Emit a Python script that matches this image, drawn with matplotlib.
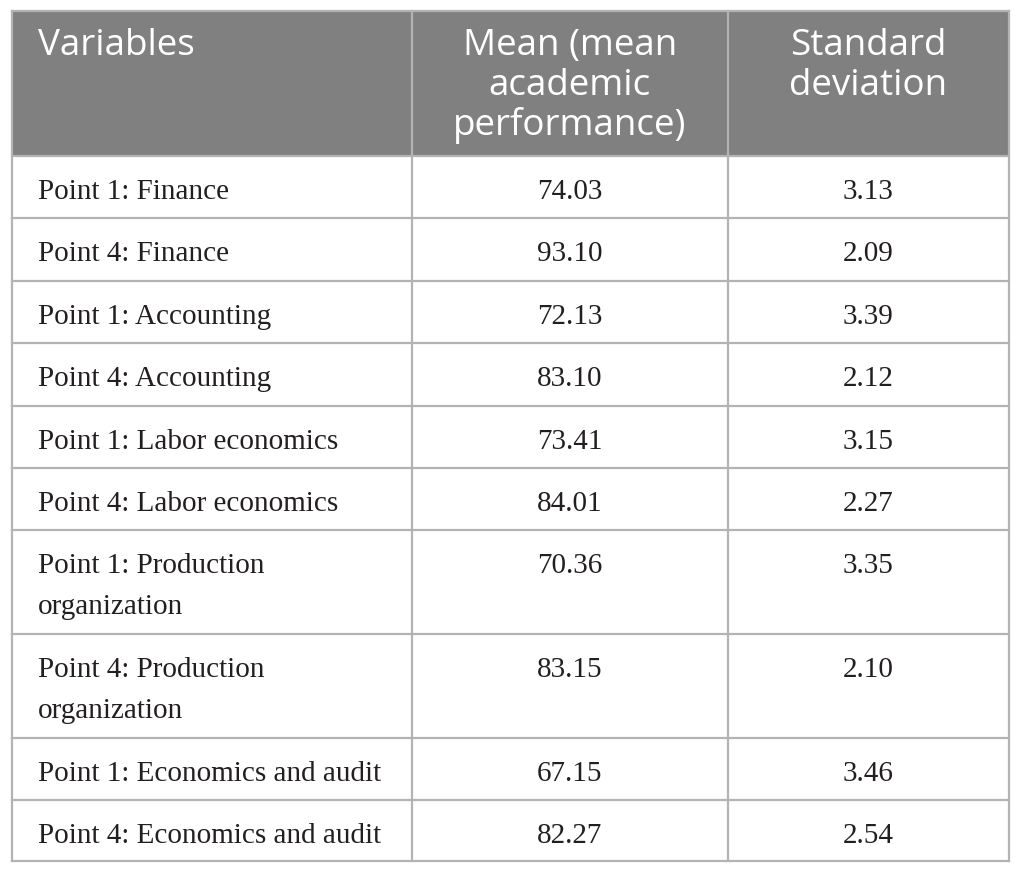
import matplotlib
matplotlib.use("Agg")
import matplotlib.pyplot as plt
from matplotlib.patches import Rectangle

# ---- data ----
headers = ["Variables", "Mean (mean\nacademic\nperformance)", "Standard\ndeviation"]
variables = [
    "Point 1: Finance",
    "Point 4: Finance",
    "Point 1: Accounting",
    "Point 4: Accounting",
    "Point 1: Labor economics",
    "Point 4: Labor economics",
    "Point 1: Production\norganization",
    "Point 4: Production\norganization",
    "Point 1: Economics and audit",
    "Point 4: Economics and audit",
]
means = ["74.03", "93.10", "72.13", "83.10", "73.41", "84.01", "70.36", "83.15", "67.15", "82.27"]
sds = ["3.13", "2.09", "3.39", "2.12", "3.15", "2.27", "3.35", "2.10", "3.46", "2.54"]

# ---- layout (pixels) ----
W, H = 1022, 875
col_x = [12, 412, 728, 1009]
row_y = [11, 156, 218, 281, 343, 406, 468, 530, 634, 738, 800, 861]
line_col = "#b3b3b3"
head_col = "#808080"

fig = plt.figure(figsize=(W / 100, H / 100), dpi=100)
ax = fig.add_axes([0, 0, 1, 1])
ax.set_xlim(0, W)
ax.set_ylim(H, 0)
ax.axis("off")

# header background
ax.add_patch(Rectangle((col_x[0], row_y[0]), col_x[-1] - col_x[0], row_y[1] - row_y[0],
                       facecolor=head_col, edgecolor="none", zorder=1))

# grid lines
for x in col_x:
    ax.plot([x, x], [row_y[0], row_y[-1]], color=line_col, lw=1.6, zorder=2, solid_capstyle="projecting")
for y in row_y:
    ax.plot([col_x[0], col_x[-1]], [y, y], color=line_col, lw=1.6, zorder=2, solid_capstyle="projecting")

hfont = dict(family=["Open Sans", "DejaVu Sans"], size=26.5, color="white")
bfont = dict(family=["Liberation Serif", "DejaVu Serif"], size=21, color="#231f20")

# headers
hbase = row_y[0] + 44
ax.text(38, hbase, headers[0], ha="left", va="baseline", **hfont, zorder=3)
for ci, h in enumerate(headers[1:], start=1):
    cx = (col_x[ci] + col_x[ci + 1]) / 2
    for li, line in enumerate(h.split("\n")):
        ax.text(cx, hbase + li * 40, line, ha="center", va="baseline", **hfont, zorder=3)

# body
for ri, (v, m, s) in enumerate(zip(variables, means, sds)):
    top = row_y[ri + 1]
    y0 = top + 43
    for li, line in enumerate(v.split("\n")):
        ax.text(38, y0 + li * 41, line, ha="left", va="baseline", **bfont, zorder=3)
    ax.text((col_x[1] + col_x[2]) / 2, y0, m, ha="center", va="baseline", **bfont, zorder=3)
    ax.text((col_x[2] + col_x[3]) / 2, y0, s, ha="center", va="baseline", **bfont, zorder=3)

fig.savefig("out.png", dpi=100, facecolor="white")
